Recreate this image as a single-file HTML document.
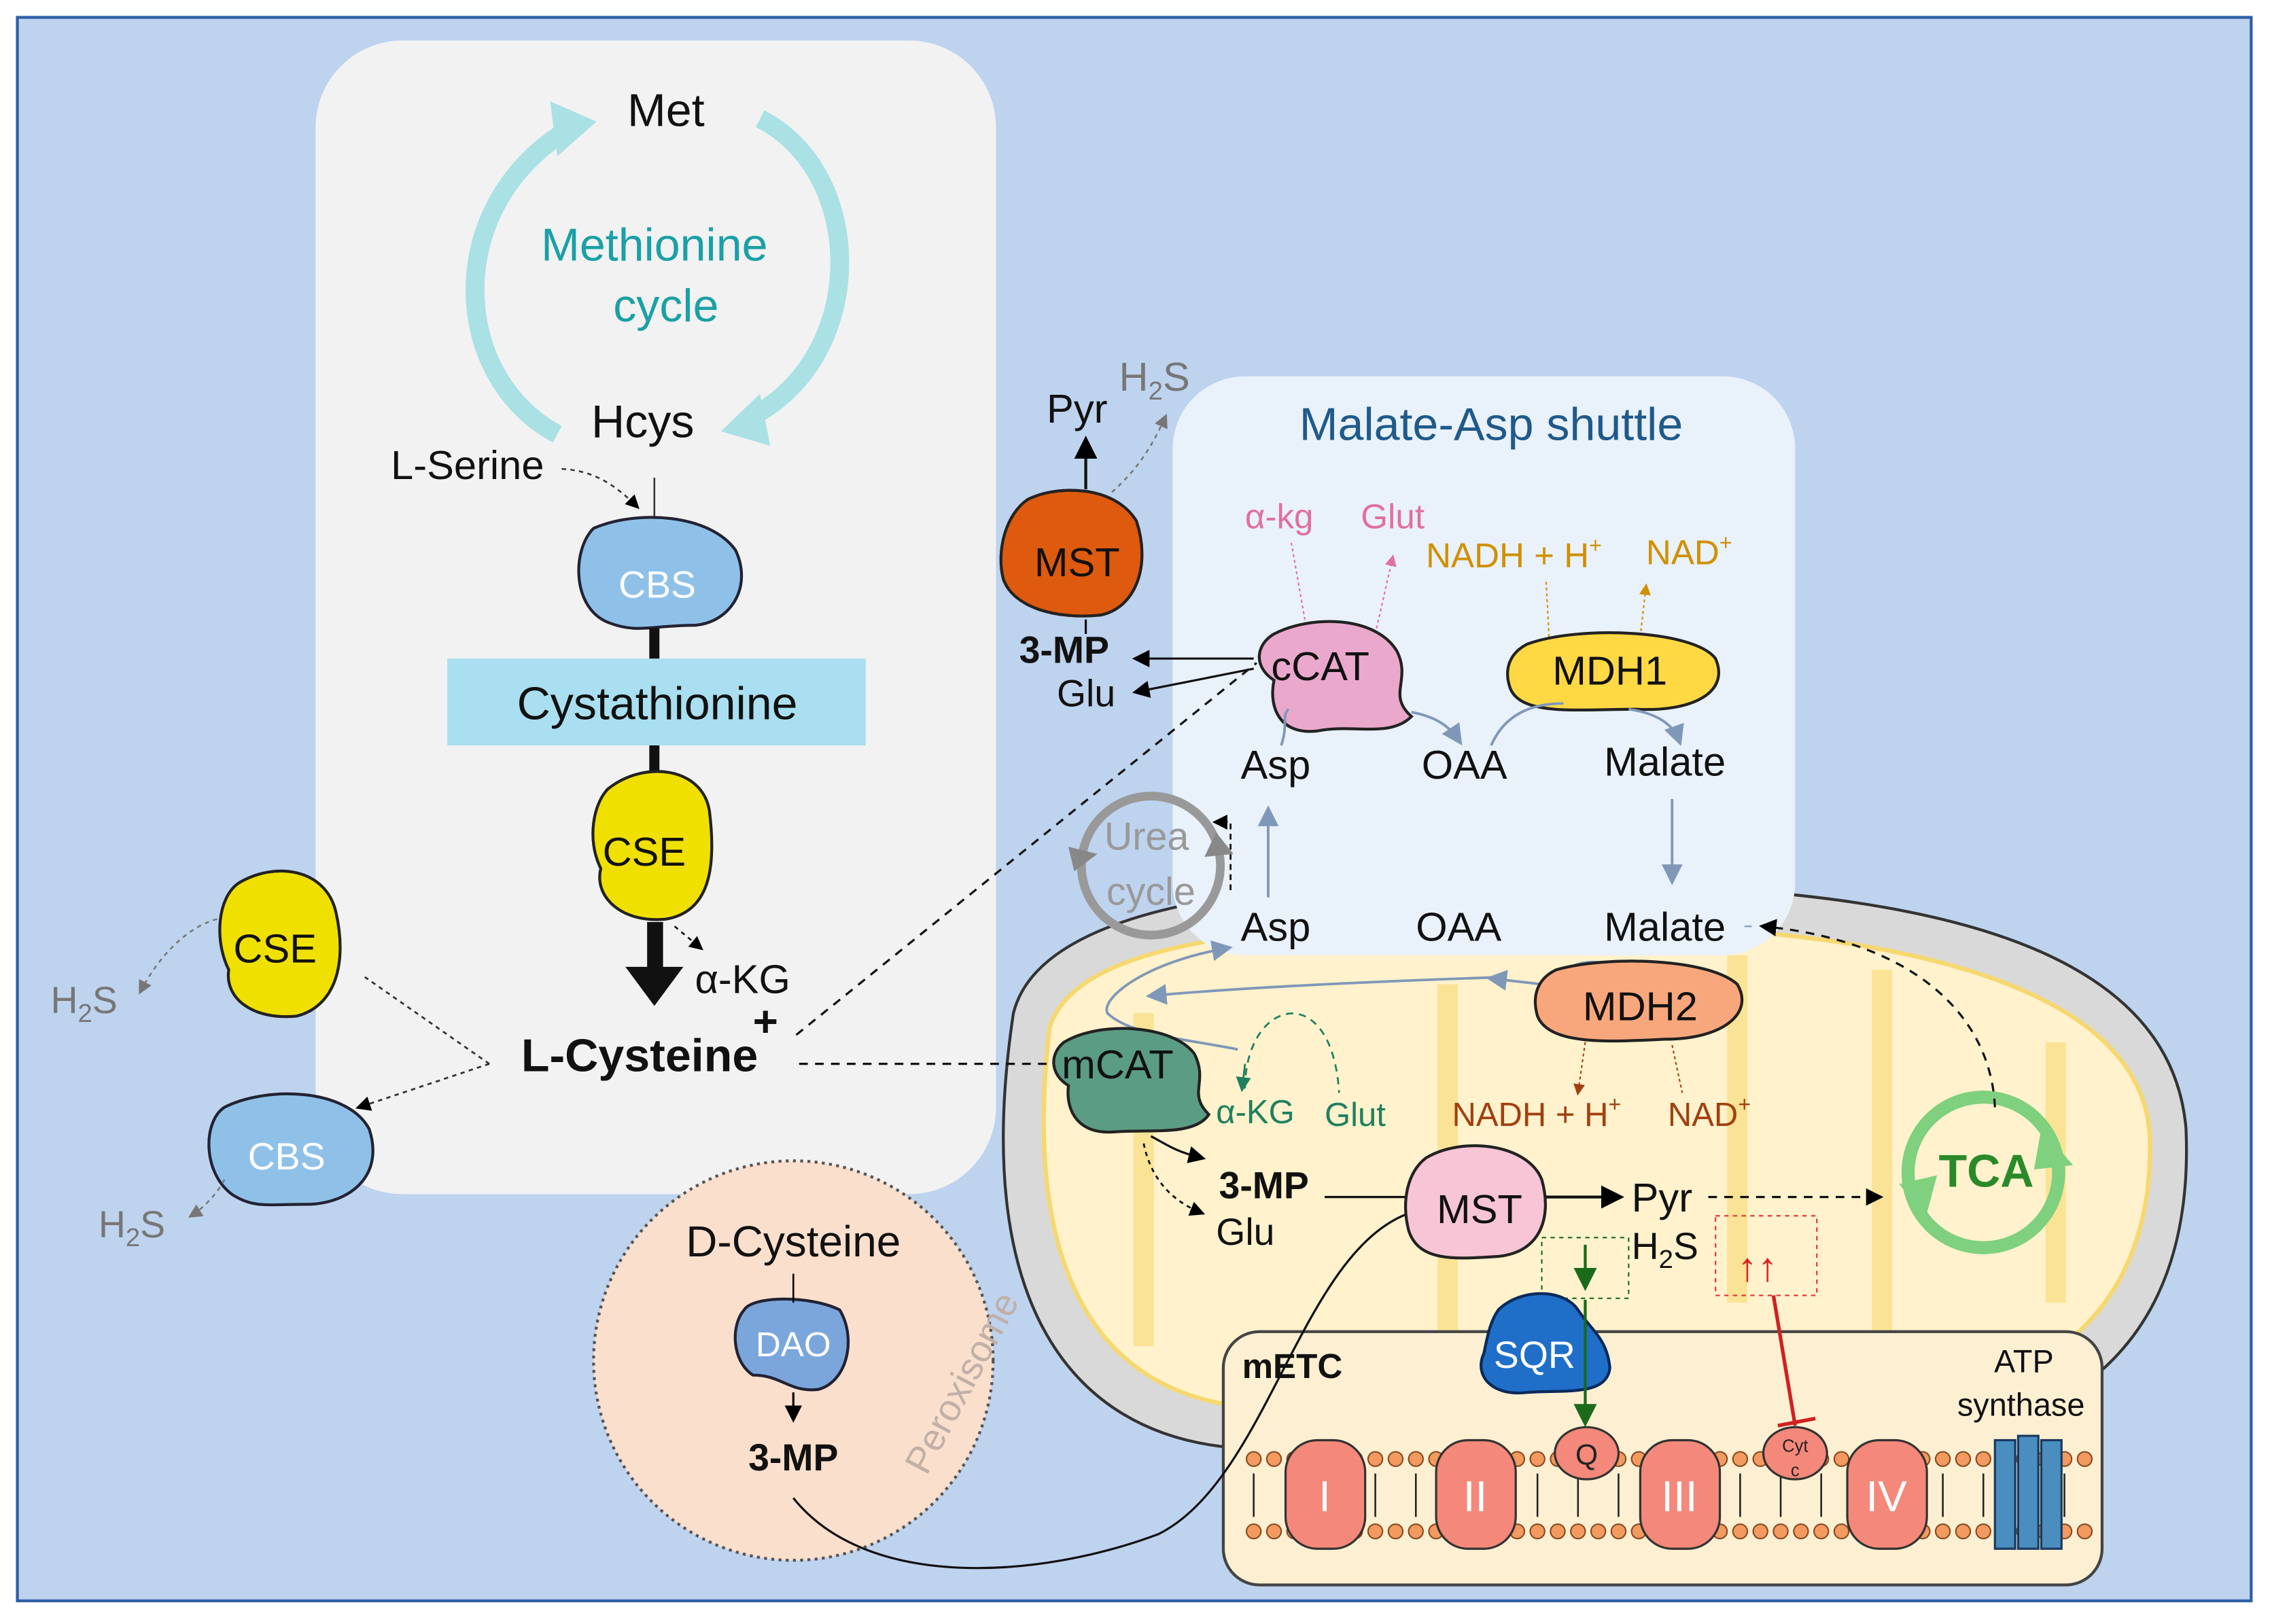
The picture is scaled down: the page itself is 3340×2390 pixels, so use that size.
<!DOCTYPE html>
<html><head><meta charset="utf-8"><style>
html,body{margin:0;padding:0;background:#fff}
svg{display:block}
text{font-family:"Liberation Sans",Arial,sans-serif}
</style></head><body>
<svg width="3340" height="2390" viewBox="0 0 1568 1122" preserveAspectRatio="none" xmlns="http://www.w3.org/2000/svg">
<defs>
<marker id="ab" markerWidth="8" markerHeight="8" refX="6" refY="4" orient="auto"><path d="M0,0 L8,4 L0,8 z" fill="#000"/></marker>
<marker id="ag" markerWidth="8" markerHeight="8" refX="6" refY="4" orient="auto"><path d="M0,0 L8,4 L0,8 z" fill="#777"/></marker>
<marker id="ast" markerWidth="8" markerHeight="8" refX="6" refY="4" orient="auto"><path d="M0,0 L8,4 L0,8 z" fill="#7f98b8"/></marker>
<marker id="ap" markerWidth="8" markerHeight="8" refX="6" refY="4" orient="auto"><path d="M0,0 L8,4 L0,8 z" fill="#e070a0"/></marker>
<marker id="ao" markerWidth="8" markerHeight="8" refX="6" refY="4" orient="auto"><path d="M0,0 L8,4 L0,8 z" fill="#d09000"/></marker>
<marker id="abr" markerWidth="8" markerHeight="8" refX="6" refY="4" orient="auto"><path d="M0,0 L8,4 L0,8 z" fill="#a04010"/></marker>
<marker id="at" markerWidth="8" markerHeight="8" refX="6" refY="4" orient="auto"><path d="M0,0 L8,4 L0,8 z" fill="#208060"/></marker>
<marker id="adg" markerWidth="8" markerHeight="8" refX="6" refY="4" orient="auto"><path d="M0,0 L8,4 L0,8 z" fill="#1a6a1a"/></marker>
</defs>
<rect x="0" y="0" width="1568" height="1122" fill="#fff"/>
<rect x="12" y="12" width="1543" height="1094" fill="#bed3ee" stroke="#2f5fa7" stroke-width="2"/>
<!-- grey panel -->
<rect x="218" y="28" width="470" height="797" rx="60" fill="#f2f2f2"/>
<!-- mitochondrion -->
<path d="M700,700 C720,620 900,600 1150,612 C1350,620 1500,660 1510,780 C1515,900 1460,990 1300,1000 L850,1000 C740,990 670,900 700,700 Z" fill="#d9d9d9" stroke="#333" stroke-width="2"/>
<path d="M725,710 C745,645 900,632 1150,640 C1340,648 1480,690 1485,785 C1488,880 1440,960 1300,972 L860,972 C760,962 705,880 725,710 Z" fill="#fff2cc" stroke="#f6d870" stroke-width="3"/>
<g fill="none" stroke="#f6d870" stroke-width="14" opacity="0.6">
<path d="M790,700 L790,930"/><path d="M1000,680 L1000,920"/><path d="M1200,660 L1200,900"/><path d="M1300,670 L1300,920"/><path d="M1420,720 L1420,900"/>
</g>
<!-- shuttle panel -->
<rect x="810" y="260" width="430" height="400" rx="50" fill="#e9f1fa"/>
<!-- mETC box -->
<rect x="845" y="920" width="607" height="175" rx="25" fill="#fdf0d2" stroke="#444" stroke-width="2"/>
<!-- membrane -->
<g fill="#f29a60" stroke="#8a4a20" stroke-width="1">
<g id="row">
<circle cx="866" cy="1008" r="5"/><circle cx="880" cy="1008" r="5"/><circle cx="894" cy="1008" r="5"/><circle cx="908" cy="1008" r="5"/><circle cx="922" cy="1008" r="5"/><circle cx="936" cy="1008" r="5"/><circle cx="950" cy="1008" r="5"/><circle cx="964" cy="1008" r="5"/><circle cx="978" cy="1008" r="5"/><circle cx="992" cy="1008" r="5"/><circle cx="1006" cy="1008" r="5"/><circle cx="1020" cy="1008" r="5"/><circle cx="1034" cy="1008" r="5"/><circle cx="1048" cy="1008" r="5"/><circle cx="1062" cy="1008" r="5"/><circle cx="1076" cy="1008" r="5"/><circle cx="1090" cy="1008" r="5"/><circle cx="1104" cy="1008" r="5"/><circle cx="1118" cy="1008" r="5"/><circle cx="1132" cy="1008" r="5"/><circle cx="1146" cy="1008" r="5"/><circle cx="1160" cy="1008" r="5"/><circle cx="1174" cy="1008" r="5"/><circle cx="1188" cy="1008" r="5"/><circle cx="1202" cy="1008" r="5"/><circle cx="1216" cy="1008" r="5"/><circle cx="1230" cy="1008" r="5"/><circle cx="1244" cy="1008" r="5"/><circle cx="1258" cy="1008" r="5"/><circle cx="1272" cy="1008" r="5"/><circle cx="1286" cy="1008" r="5"/><circle cx="1300" cy="1008" r="5"/><circle cx="1314" cy="1008" r="5"/><circle cx="1328" cy="1008" r="5"/><circle cx="1342" cy="1008" r="5"/><circle cx="1356" cy="1008" r="5"/><circle cx="1370" cy="1008" r="5"/><circle cx="1384" cy="1008" r="5"/><circle cx="1398" cy="1008" r="5"/><circle cx="1412" cy="1008" r="5"/><circle cx="1426" cy="1008" r="5"/><circle cx="1440" cy="1008" r="5"/>
</g>
<use href="#row" y="50"/>
</g>
<g stroke="#222" stroke-width="1.2" fill="none">
<path d="M866,1018 L866,1048 M894,1018 L894,1048 M922,1018 L922,1048 M950,1018 L950,1048 M978,1018 L978,1048 M1006,1018 L1006,1048 M1034,1018 L1034,1048 M1062,1018 L1062,1048 M1090,1018 L1090,1048 M1118,1018 L1118,1048 M1146,1018 L1146,1048 M1174,1018 L1174,1048 M1202,1018 L1202,1048 M1230,1018 L1230,1048 M1258,1018 L1258,1048 M1286,1018 L1286,1048 M1314,1018 L1314,1048 M1342,1018 L1342,1048 M1370,1018 L1370,1048 M1398,1018 L1398,1048 M1426,1018 L1426,1048"/>
</g>
<!-- complexes -->
<g fill="#f4887a" stroke="#333" stroke-width="1.5">
<rect x="888" y="995" width="55" height="75" rx="22"/>
<rect x="992" y="995" width="55" height="75" rx="22"/>
<rect x="1133" y="995" width="55" height="75" rx="22"/>
<rect x="1276" y="995" width="55" height="75" rx="22"/>
<ellipse cx="1096" cy="1004" rx="22" ry="18"/>
<ellipse cx="1240" cy="1004" rx="22" ry="18"/>
</g>
<g fill="#4a8ec0" stroke="#1a3a60" stroke-width="1.5">
<rect x="1378" y="995" width="14" height="75"/><rect x="1394" y="992" width="14" height="78"/><rect x="1410" y="995" width="14" height="75"/>
</g>
<g font-size="30" fill="#fff" text-anchor="middle">
<text x="915" y="1044">I</text><text x="1019" y="1044">II</text><text x="1160" y="1044">III</text><text x="1303" y="1044">IV</text>
</g>
<text x="1096" y="1012" font-size="20" text-anchor="middle" fill="#222">Q</text>
<text x="1240" y="1003" font-size="12" text-anchor="middle" fill="#222">Cyt</text>
<text x="1240" y="1020" font-size="12" text-anchor="middle" fill="#222">c</text>
<text x="858" y="952" font-size="24" font-weight="bold" fill="#111">mETC</text>
<text x="1398" y="948" font-size="22" text-anchor="middle" fill="#111">ATP</text>
<text x="1396" y="978" font-size="22" text-anchor="middle" fill="#111">synthase</text>
<!-- peroxisome -->
<circle cx="548" cy="940" r="138" fill="#fbdfcd" stroke="#555" stroke-width="2" stroke-dasharray="2,3"/>
<text x="548" y="868" font-size="30" text-anchor="middle" fill="#111">D-Cysteine</text>
<text x="640" y="1020" font-size="26" fill="#c0b0a8" transform="rotate(-62 640 1020)">Peroxisome</text>
<path d="M514,905 C520,895 560,895 580,905 C592,925 585,955 565,960 C545,962 540,950 520,950 C505,940 505,915 514,905Z" fill="#7aa6dc" stroke="#223" stroke-width="2"/>
<text x="548" y="937" font-size="24" fill="#fff" text-anchor="middle">DAO</text>
<line x1="548" y1="880" x2="548" y2="900" stroke="#000" stroke-width="1.2"/>
<line x1="548" y1="962" x2="548" y2="980" stroke="#000" stroke-width="1.5" marker-end="url(#ab)"/>
<text x="548" y="1016" font-size="26" font-weight="bold" text-anchor="middle" fill="#111">3-MP</text>
<path d="M548,1035 C600,1100 720,1090 800,1060 C880,1020 900,850 985,835" fill="none" stroke="#111" stroke-width="1.5" marker-end="url(#ab)"/>
<!-- methionine cycle -->
<g fill="none" stroke="#a9e1e4" stroke-width="13">
<path d="M385,300 C310,260 305,140 395,88"/>
<path d="M525,82 C600,120 600,250 515,290"/>
</g>
<path d="M380,70 L412,84 L385,108 Z" fill="#a9e1e4"/>
<path d="M498,298 L525,272 L532,308 Z" fill="#a9e1e4"/>
<text x="460" y="87" font-size="32" text-anchor="middle" fill="#111">Met</text>
<text x="452" y="180" font-size="32" text-anchor="middle" fill="#1aa0a6">Methionine</text>
<text x="460" y="222" font-size="32" text-anchor="middle" fill="#1aa0a6">cycle</text>
<text x="444" y="302" font-size="32" text-anchor="middle" fill="#111">Hcys</text>
<text x="270" y="331" font-size="28" fill="#111">L-Serine</text>
<path d="M388,324 C410,325 425,335 440,350" fill="none" stroke="#333" stroke-width="1.2" stroke-dasharray="3,3" marker-end="url(#ab)"/>
<line x1="452" y1="330" x2="452" y2="362" stroke="#333" stroke-width="1.2"/>
<!-- CBS top -->
<path d="M410,365 C440,352 490,355 508,380 C520,405 505,430 480,432 C450,432 440,438 420,430 C395,420 395,380 410,365Z" fill="#8fc1e8" stroke="#223" stroke-width="2"/>
<text x="454" y="413" font-size="26" fill="#fff" text-anchor="middle">CBS</text>
<line x1="452" y1="434" x2="452" y2="456" stroke="#111" stroke-width="7"/>
<rect x="309" y="455" width="289" height="60" fill="#a9dff0"/>
<text x="454" y="497" font-size="32" text-anchor="middle" fill="#111">Cystathionine</text>
<line x1="452" y1="515" x2="452" y2="535" stroke="#111" stroke-width="7"/>
<!-- CSE center -->
<path d="M420,545 C445,525 485,530 490,560 C495,600 490,630 460,635 C430,638 410,620 415,600 C405,580 410,555 420,545Z" fill="#f0e000" stroke="#222" stroke-width="2"/>
<text x="445" y="598" font-size="28" text-anchor="middle" fill="#111">CSE</text>
<path d="M447,637 L458,637 L458,668 L472,668 L452,695 L432,668 L447,668 Z" fill="#111"/>
<line x1="466" y1="640" x2="484" y2="655" stroke="#111" stroke-width="1.2" stroke-dasharray="3,3" marker-end="url(#ab)"/>
<text x="480" y="686" font-size="28" fill="#111">α-KG</text>
<text x="520" y="716" font-size="30" font-weight="bold" fill="#111">+</text>
<text x="360" y="740" font-size="32" font-weight="bold" fill="#111">L-Cysteine</text>
<!-- left CSE/CBS -->
<path d="M165,610 C190,595 225,600 232,630 C240,665 232,695 205,702 C175,705 155,690 158,670 C148,650 150,620 165,610Z" fill="#f0e000" stroke="#222" stroke-width="2"/>
<text x="190" y="665" font-size="28" text-anchor="middle" fill="#111">CSE</text>
<path d="M155,765 C185,750 240,752 255,780 C265,810 245,830 215,832 C185,832 175,835 160,825 C140,810 140,775 155,765Z" fill="#8fc1e8" stroke="#223" stroke-width="2"/>
<text x="198" y="808" font-size="26" fill="#fff" text-anchor="middle">CBS</text>
<path d="M338,735 L252,675 M338,735 L248,765" fill="none" stroke="#333" stroke-width="1.3" stroke-dasharray="3,3" marker-end="url(#ab)"/>
<path d="M150,635 C130,640 110,660 97,685" fill="none" stroke="#777" stroke-width="1.2" stroke-dasharray="3,3" marker-end="url(#ag)"/>
<path d="M155,815 C150,825 140,835 132,840" fill="none" stroke="#777" stroke-width="1.2" stroke-dasharray="3,3" marker-end="url(#ag)"/>
<text x="35" y="700" font-size="26" fill="#777">H<tspan font-size="18" dy="6">2</tspan><tspan dy="-6">S</tspan></text>
<text x="68" y="855" font-size="26" fill="#777">H<tspan font-size="18" dy="6">2</tspan><tspan dy="-6">S</tspan></text>
<!-- dashed from L-Cysteine -->
<line x1="552" y1="735" x2="725" y2="735" stroke="#111" stroke-width="1.5" stroke-dasharray="6,5"/>
<line x1="550" y1="715" x2="868" y2="458" stroke="#111" stroke-width="1.5" stroke-dasharray="6,5"/>
<!-- MST top -->
<path d="M710,345 C730,335 770,335 785,360 C795,390 785,420 760,425 C730,428 700,420 693,400 C688,380 695,355 710,345Z" fill="#dd5a0e" stroke="#222" stroke-width="2"/>
<text x="744" y="398" font-size="28" text-anchor="middle" fill="#111">MST</text>
<line x1="750" y1="338" x2="750" y2="305" stroke="#111" stroke-width="2" marker-end="url(#ab)"/>
<line x1="750" y1="428" x2="750" y2="438" stroke="#111" stroke-width="1.5"/>
<path d="M768,340 C785,325 795,310 805,288" fill="none" stroke="#777" stroke-width="1.2" stroke-dasharray="3,3" marker-end="url(#ag)"/>
<text x="723" y="292" font-size="28" fill="#111">Pyr</text>
<text x="773" y="270" font-size="28" fill="#777">H<tspan font-size="18" dy="6">2</tspan><tspan dy="-6">S</tspan></text>
<text x="704" y="458" font-size="26" font-weight="bold" fill="#111">3-MP</text>
<text x="730" y="488" font-size="26" fill="#111">Glu</text>
<line x1="866" y1="455" x2="785" y2="455" stroke="#111" stroke-width="1.5" marker-end="url(#ab)"/>
<line x1="866" y1="462" x2="785" y2="478" stroke="#111" stroke-width="1.5" marker-end="url(#ab)"/>
<!-- shuttle -->
<text x="1030" y="304" font-size="32" text-anchor="middle" fill="#1f5a8a">Malate-Asp  shuttle</text>
<text x="860" y="365" font-size="24" fill="#e070a0">α-kg</text>
<text x="940" y="365" font-size="24" fill="#e070a0">Glut</text>
<line x1="892" y1="375" x2="902" y2="432" stroke="#e070a0" stroke-width="1" stroke-dasharray="2,2"/>
<line x1="950" y1="438" x2="962" y2="385" stroke="#e070a0" stroke-width="1" stroke-dasharray="2,2" marker-end="url(#ap)"/>
<text x="985" y="392" font-size="24" fill="#d09000">NADH + H<tspan font-size="15" dy="-10">+</tspan></text>
<text x="1137" y="390" font-size="24" fill="#d09000">NAD<tspan font-size="15" dy="-10">+</tspan></text>
<line x1="1068" y1="402" x2="1070" y2="440" stroke="#d09000" stroke-width="1" stroke-dasharray="2,2"/>
<line x1="1133" y1="440" x2="1137" y2="405" stroke="#d09000" stroke-width="1" stroke-dasharray="2,2" marker-end="url(#ao)"/>
<path d="M880,438 C905,425 950,425 965,450 C975,470 958,480 975,495 C960,510 935,500 910,505 C885,508 876,490 880,470 C865,460 868,445 880,438Z" fill="#eaa8cc" stroke="#222" stroke-width="2"/>
<text x="912" y="470" font-size="28" fill="#111" text-anchor="middle">cCAT</text>
<path d="M1055,445 C1090,432 1170,435 1185,455 C1195,478 1170,492 1130,490 C1090,490 1050,495 1043,475 C1038,460 1045,450 1055,445Z" fill="#ffd944" stroke="#222" stroke-width="2"/>
<text x="1112" y="473" font-size="28" fill="#111" text-anchor="middle">MDH1</text>
<text x="857" y="538" font-size="28" fill="#111">Asp</text>
<text x="982" y="538" font-size="28" fill="#111">OAA</text>
<text x="1108" y="536" font-size="28" fill="#111">Malate</text>
<path d="M885,515 C890,500 885,495 890,490" fill="none" stroke="#7f98b8" stroke-width="1.8"/>
<path d="M975,492 C990,495 1000,500 1008,512" fill="none" stroke="#7f98b8" stroke-width="1.8" marker-end="url(#ast)"/>
<path d="M1030,515 C1040,492 1060,486 1080,486" fill="none" stroke="#7f98b8" stroke-width="1.8"/>
<path d="M1125,490 C1140,492 1155,498 1160,512" fill="none" stroke="#7f98b8" stroke-width="1.8" marker-end="url(#ast)"/>
<line x1="1155" y1="552" x2="1155" y2="608" stroke="#7f98b8" stroke-width="1.8" marker-end="url(#ast)"/>
<text x="857" y="650" font-size="28" fill="#111">Asp</text>
<text x="978" y="650" font-size="28" fill="#111">OAA</text>
<text x="1108" y="650" font-size="28" fill="#111">Malate</text>
<line x1="876" y1="620" x2="876" y2="560" stroke="#7f98b8" stroke-width="1.8" marker-end="url(#ast)"/>
<path d="M850,615 L850,568 L840,568" fill="none" stroke="#111" stroke-width="1.3" stroke-dasharray="4,3" marker-end="url(#ab)"/>
<!-- urea cycle -->
<circle cx="795" cy="598" r="48" fill="none" stroke="#999" stroke-width="6"/>
<path d="M840,575 L852,590 L832,592 Z" fill="#888"/>
<path d="M742,602 L738,585 L758,590 Z" fill="#888"/>
<text x="792" y="587" font-size="27" text-anchor="middle" fill="#999">Urea</text>
<text x="795" y="625" font-size="27" text-anchor="middle" fill="#999">cycle</text>
<!-- mito flows -->
<path d="M1040,675 C950,678 860,682 795,688" fill="none" stroke="#7f98b8" stroke-width="1.8" marker-end="url(#ast)"/>
<path d="M855,725 C820,718 780,715 765,700 C760,690 790,665 848,655" fill="none" stroke="#7f98b8" stroke-width="1.8" marker-end="url(#ast)"/>
<line x1="1065" y1="680" x2="1030" y2="676" stroke="#7f98b8" stroke-width="1.8" marker-end="url(#ast)"/>
<path d="M1205,640 L1210,640" fill="none" stroke="#7f98b8"/>
<path d="M1075,675 C1085,665 1095,663 1110,665" fill="none" stroke="#7f98b8" stroke-width="1"/>
<path d="M1072,665 C1095,660 1110,655 1120,658" fill="none" stroke="none"/>
<path d="M1075,672 C1080,667 1068,660 1075,665" fill="none" stroke="none"/>
<path d="M1070,670 C1080,668 1090,665 1100,660" fill="none" stroke="none"/>
<!-- MDH2 -->
<path d="M1075,670 C1110,660 1180,662 1200,680 C1212,700 1190,718 1150,718 C1110,720 1070,722 1062,702 C1058,688 1062,676 1075,670Z" fill="#f8a77c" stroke="#222" stroke-width="2"/>
<text x="1133" y="705" font-size="28" fill="#111" text-anchor="middle">MDH2</text>
<text x="1003" y="778" font-size="23" fill="#a04010">NADH + H<tspan font-size="15" dy="-10">+</tspan></text>
<text x="1152" y="778" font-size="23" fill="#a04010">NAD<tspan font-size="15" dy="-10">+</tspan></text>
<line x1="1095" y1="720" x2="1090" y2="755" stroke="#a04010" stroke-width="1" stroke-dasharray="2,2" marker-end="url(#abr)"/>
<line x1="1155" y1="722" x2="1162" y2="755" stroke="#a04010" stroke-width="1" stroke-dasharray="2,2"/>
<!-- mCAT -->
<path d="M735,720 C760,705 810,708 825,728 C835,748 820,755 835,770 C825,785 795,780 770,782 C745,784 736,768 738,750 C725,742 725,728 735,720Z" fill="#5b9c84" stroke="#222" stroke-width="2"/>
<text x="772" y="745" font-size="28" fill="#111" text-anchor="middle">mCAT</text>
<path d="M860,752 C860,690 920,675 925,755" fill="none" stroke="#208060" stroke-width="1.3" stroke-dasharray="5,4"/>
<path d="M860,735 L858,752" fill="none" stroke="#208060" stroke-width="1.3" marker-end="url(#at)"/>
<text x="840" y="776" font-size="23" fill="#208060">α-KG</text>
<text x="915" y="778" font-size="23" fill="#208060">Glut</text>
<path d="M795,785 C805,790 810,795 830,800" fill="none" stroke="#111" stroke-width="1.5" marker-end="url(#ab)"/>
<path d="M790,790 C795,815 810,830 830,838" fill="none" stroke="#111" stroke-width="1.3" stroke-dasharray="3,3" marker-end="url(#ab)"/>
<text x="842" y="828" font-size="26" font-weight="bold" fill="#111">3-MP</text>
<text x="840" y="860" font-size="26" fill="#111">Glu</text>
<line x1="915" y1="827" x2="980" y2="827" stroke="#111" stroke-width="1.5" marker-end="url(#ab)"/>
<!-- MST mito -->
<path d="M985,800 C1010,785 1055,790 1065,815 C1072,840 1065,865 1035,868 C1005,870 980,872 973,850 C968,830 972,810 985,800Z" fill="#f7c5d5" stroke="#222" stroke-width="2"/>
<text x="1022" y="845" font-size="28" fill="#111" text-anchor="middle">MST</text>
<line x1="1068" y1="827" x2="1118" y2="827" stroke="#111" stroke-width="2" marker-end="url(#ab)"/>
<text x="1127" y="837" font-size="28" fill="#111">Pyr</text>
<line x1="1180" y1="827" x2="1298" y2="827" stroke="#111" stroke-width="1.5" stroke-dasharray="6,5" marker-end="url(#ab)"/>
<text x="1127" y="870" font-size="26" fill="#111">H<tspan font-size="18" dy="6">2</tspan><tspan dy="-6">S</tspan></text>
<rect x="1065" y="855" width="60" height="42" fill="none" stroke="#1a6a1a" stroke-width="1" stroke-dasharray="3,3"/>
<line x1="1095" y1="860" x2="1095" y2="888" stroke="#1a6a1a" stroke-width="2" marker-end="url(#adg)"/>
<rect x="1185" y="840" width="70" height="55" fill="none" stroke="#e03030" stroke-width="1" stroke-dasharray="3,3"/>
<text x="1200" y="885" font-size="28" fill="#e02020">↑↑</text>
<path d="M1225,895 L1240,985 M1228,985 L1254,980" stroke="#d02020" stroke-width="2.5" fill="none"/>
<!-- SQR -->
<path d="M1035,905 C1050,890 1080,890 1090,905 C1100,920 1110,925 1112,945 C1110,965 1080,960 1055,962 C1030,965 1018,950 1025,935 C1028,920 1030,912 1035,905Z" fill="#1f6fc9" stroke="#0a2a5a" stroke-width="2"/>
<text x="1060" y="945" font-size="26" fill="#fff" text-anchor="middle">SQR</text>
<line x1="1095" y1="898" x2="1095" y2="982" stroke="#1a6a1a" stroke-width="2" marker-end="url(#adg)"/>
<!-- TCA -->
<circle cx="1370" cy="810" r="52" fill="none" stroke="#7fd07f" stroke-width="9"/>
<path d="M1410,780 L1432,805 L1405,808 Z" fill="#7fd07f"/>
<path d="M1330,842 L1312,818 L1338,812 Z" fill="#7fd07f"/>
<text x="1372" y="820" font-size="32" font-weight="bold" fill="#2a8a2a" text-anchor="middle">TCA</text>
<path d="M1378,765 C1375,700 1320,650 1218,640" fill="none" stroke="#111" stroke-width="1.5" stroke-dasharray="6,5" marker-end="url(#ab)"/>
</svg>
</body></html>
